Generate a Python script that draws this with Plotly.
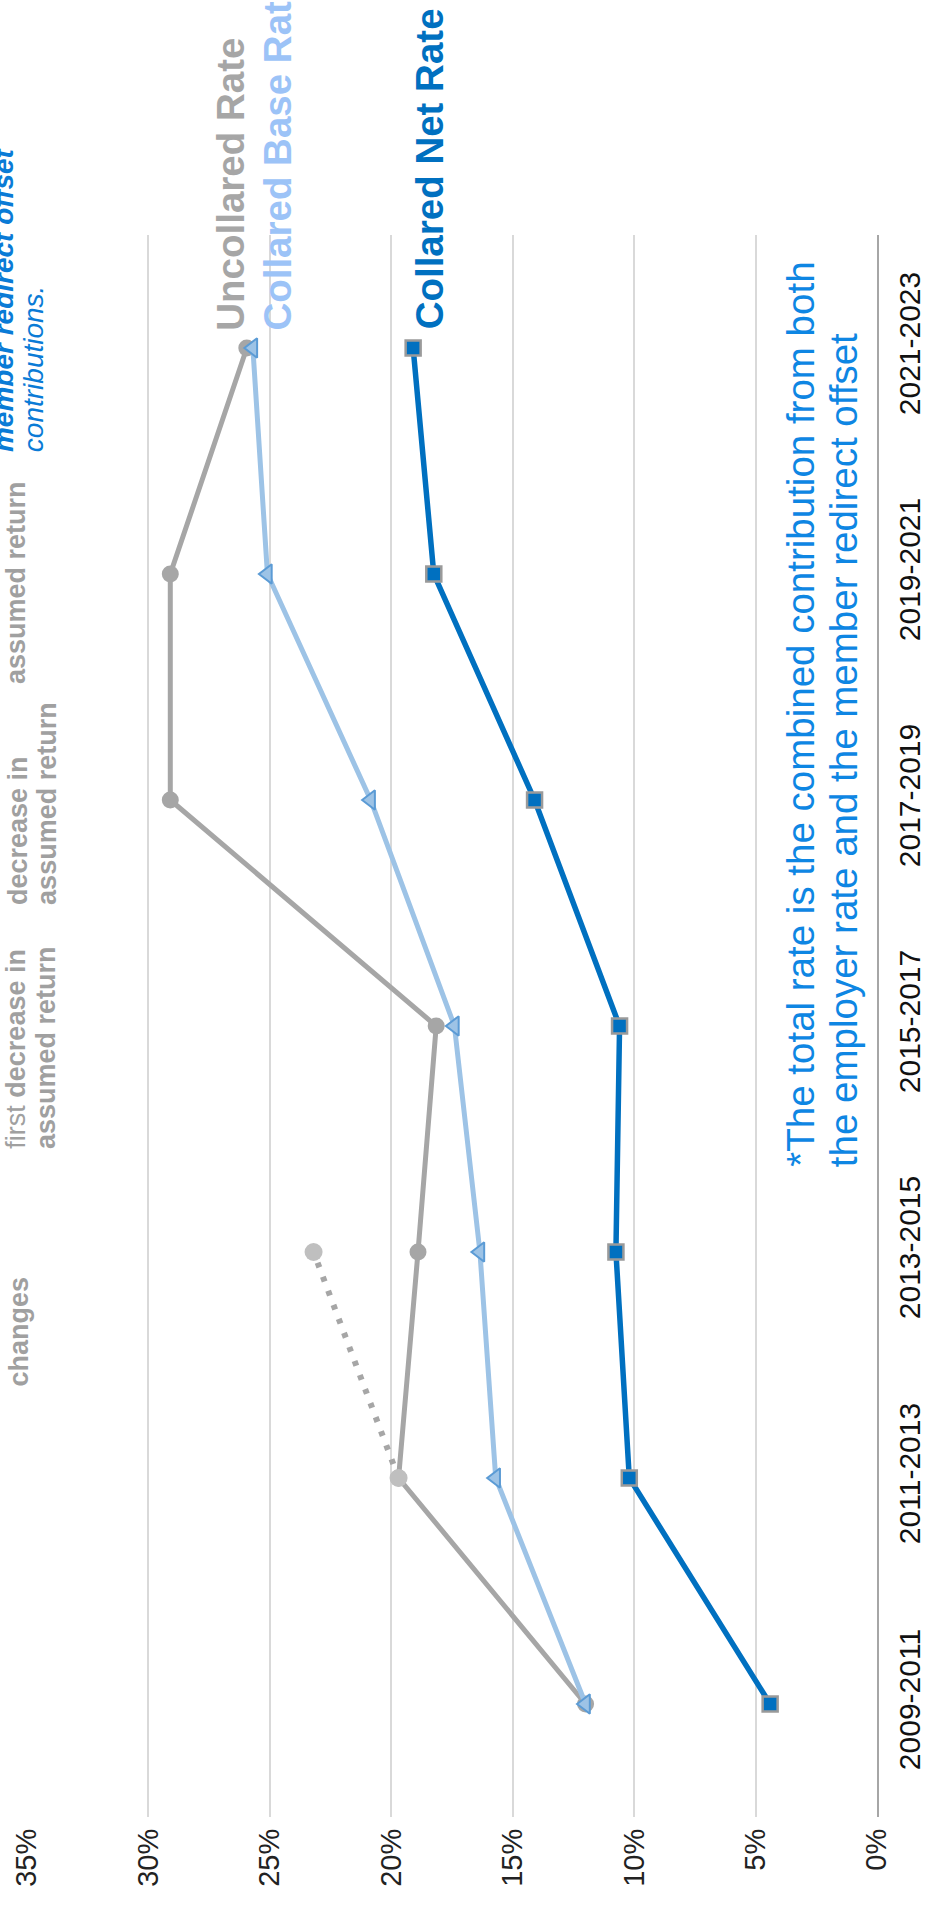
import plotly.graph_objects as go

# Contribution rates by valuation period (percent of payroll)
periods = ["2009-2011", "2011-2013", "2013-2015", "2015-2017",
           "2017-2019", "2019-2021", "2021-2023"]
uncollared_rate = [12.0, 19.7, 18.9, 18.15, 29.1, 29.1, 25.95]
collared_base_rate = [12.0, 15.7, 16.35, 17.4, 20.85, 25.1, 25.7]
collared_net_rate = [4.4, 10.2, 10.75, 10.6, 14.1, 18.25, 19.1]

# Uncollared rate including the assumption changes (dotted segment)
projected_periods = ["2011-2013", "2013-2015"]
projected_rate = [19.7, 23.2]

pct_ticks = [0, 5, 10, 15, 20, 25, 30, 35]
pct_labels = [f"{v}%" for v in pct_ticks]

PCT_MAX = 35
FONT = "Liberation Sans, Arial, sans-serif"
GRAY = "#A6A6A6"
NOTE_GRAY = "#A0A0A0"
LIGHT_BLUE = "#9DC3E6"
DARK_BLUE = "#0070C0"
NOTE_BLUE = "#0A7BD6"
FOOT_BLUE = "#0E86E3"

idx = {p: i for i, p in enumerate(periods)}

fig = go.Figure()

fig.add_trace(go.Scatter(
    x=uncollared_rate, y=[idx[p] for p in periods], mode="lines+markers",
    name="Uncollared Rate",
    line=dict(color=GRAY, width=5),
    marker=dict(symbol="circle", size=17, color=GRAY),
))
fig.add_trace(go.Scatter(
    x=projected_rate, y=[idx[p] for p in projected_periods], mode="lines+markers",
    name="Uncollared Rate (assumption changes)",
    line=dict(color=GRAY, width=6, dash="5px,10px"),
    marker=dict(symbol="circle", size=18, color="#BFBFBF"),
))
fig.add_trace(go.Scatter(
    x=collared_base_rate, y=[idx[p] for p in periods], mode="lines+markers",
    name="Collared Base Rate",
    line=dict(color=LIGHT_BLUE, width=5),
    marker=dict(symbol="triangle-left", size=17, color=LIGHT_BLUE,
                line=dict(color="#5B9BD5", width=2)),
))
fig.add_trace(go.Scatter(
    x=collared_net_rate, y=[idx[p] for p in periods], mode="lines+markers",
    name="Collared Net Rate",
    line=dict(color=DARK_BLUE, width=5.5),
    marker=dict(symbol="square", size=15, color=DARK_BLUE,
                line=dict(color="#9A9A9A", width=2.5)),
))


def vtext(text, pct, pos, size, color, bold=False, italic=False):
    """Vertical text reading bottom-to-top.

    pct: horizontal position on the percent scale (may lie beyond the axis),
    pos: category position where the text starts.
    """
    if bold:
        text = f"<b>{text}</b>"
    if italic:
        text = f"<i>{text}</i>"
    fig.add_annotation(
        text=text,
        x=(PCT_MAX - pct) / PCT_MAX, xref="paper",
        y=(pos + 0.5) / len(periods), yref="paper",
        showarrow=False, textangle=-90,
        xanchor="center", yanchor="bottom", borderpad=0,
        font=dict(family=FONT, size=size, color=color),
    )


# Series labels
vtext("Uncollared Rate", 26.62, 6.072, 38.5, GRAY, bold=True)
vtext("Collared Base Rate", 24.69, 6.072, 38.5, "#9CC3F7", bold=True)
vtext("Collared Net Rate", 18.45, 6.080, 38.5, DARK_BLUE, bold=True)

# Event notes
vtext("changes", 35.35, 1.403, 27, NOTE_GRAY, bold=True)
vtext("first <b>decrease in</b>", 35.47, 2.451, 27, NOTE_GRAY)
vtext("assumed return", 34.24, 2.451, 27, NOTE_GRAY, bold=True)
vtext("decrease in", 35.35, 3.531, 27, NOTE_GRAY, bold=True)
vtext("assumed return", 34.16, 3.531, 27, NOTE_GRAY, bold=True)
vtext("assumed return", 35.43, 4.509, 27, NOTE_GRAY, bold=True)
vtext("member redirect offset", 35.97, 5.535, 28, NOTE_BLUE, bold=True, italic=True)
vtext("contributions.", 34.73, 5.535, 28, NOTE_BLUE, italic=True)

# Footnote
vtext("*The total rate is the combined contribution from both", 3.16, 2.372, 38.5, FOOT_BLUE)
vtext("the employer rate and the member redirect offset", 1.35, 2.372, 38.5, FOOT_BLUE)

fig.update_layout(
    width=930, height=1907,
    margin=dict(l=27, r=53, t=235, b=90),
    paper_bgcolor="white", plot_bgcolor="white",
    showlegend=False,
    font=dict(family=FONT, color="#111111"),
)
fig.update_xaxes(
    range=[PCT_MAX, 0], tickvals=pct_ticks, ticktext=pct_labels,
    tickangle=-90, ticks="", ticklabelstandoff=5, automargin=False,
    tickfont=dict(size=29, color="#222222", family=FONT),
    showgrid=True, gridcolor="#D9D9D9", gridwidth=1.5,
    zeroline=False, showline=False,
)
fig.update_yaxes(
    range=[-0.5, 6.5], tickvals=list(range(len(periods))), ticktext=periods,
    side="right", tickangle=-90, ticks="", ticklabelstandoff=5, automargin=False,
    tickfont=dict(size=30, color="#111111", family=FONT),
    showgrid=False, zeroline=False,
    showline=True, linecolor=GRAY, linewidth=2,
)

fig.write_html("out.html")
